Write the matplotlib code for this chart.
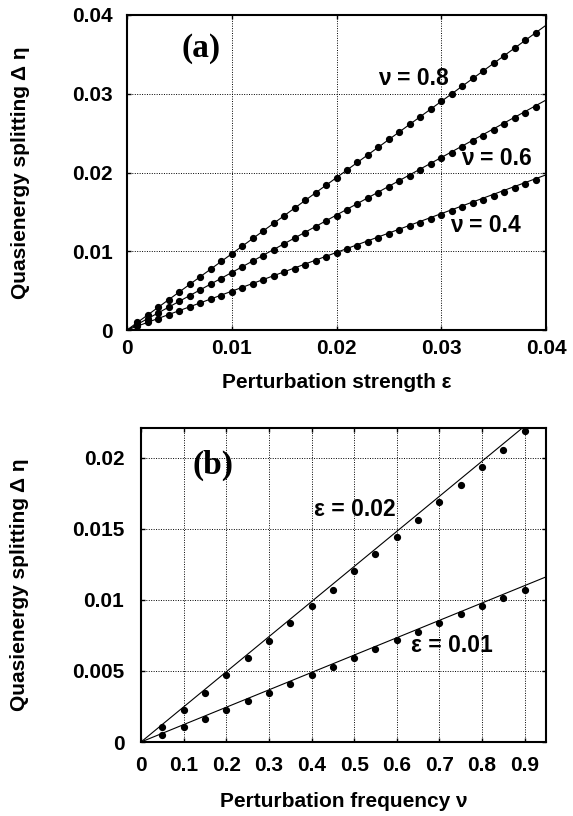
import matplotlib
matplotlib.use("Agg")
import matplotlib.pyplot as plt

plt.rcParams['font.family'] = ['Liberation Sans', 'DejaVu Sans']
plt.rcParams['font.weight'] = 'bold'

# ---- panel (a): splitting vs perturbation strength ----
eps_a = [0.001, 0.002, 0.003, 0.004, 0.005, 0.006, 0.007, 0.008, 0.009, 0.010,
         0.011, 0.012, 0.013, 0.014, 0.015, 0.016, 0.017, 0.018, 0.019, 0.020,
         0.021, 0.022, 0.023, 0.024, 0.025, 0.026, 0.027, 0.028, 0.029, 0.030,
         0.031, 0.032, 0.033, 0.034, 0.035, 0.036, 0.037, 0.038, 0.039]
split_nu08 = [0.00097, 0.00194, 0.00290, 0.00387, 0.00484, 0.00581, 0.00678, 0.00774,
              0.00871, 0.00968, 0.01065, 0.01162, 0.01258, 0.01355, 0.01452, 0.01549,
              0.01646, 0.01742, 0.01839, 0.01936, 0.02033, 0.02130, 0.02226, 0.02323,
              0.02420, 0.02517, 0.02614, 0.02710, 0.02807, 0.02904, 0.03001, 0.03098,
              0.03194, 0.03291, 0.03388, 0.03485, 0.03582, 0.03678, 0.03775]
split_nu06 = [0.00073, 0.00145, 0.00218, 0.00290, 0.00363, 0.00436, 0.00508, 0.00581,
              0.00653, 0.00726, 0.00799, 0.00871, 0.00944, 0.01016, 0.01089, 0.01162,
              0.01234, 0.01307, 0.01379, 0.01452, 0.01525, 0.01597, 0.01670, 0.01742,
              0.01815, 0.01888, 0.01960, 0.02033, 0.02105, 0.02178, 0.02251, 0.02323,
              0.02396, 0.02468, 0.02541, 0.02614, 0.02686, 0.02759, 0.02831]
split_nu04 = [0.00049, 0.00097, 0.00146, 0.00195, 0.00244, 0.00292, 0.00341, 0.00390,
              0.00438, 0.00487, 0.00536, 0.00584, 0.00633, 0.00682, 0.00731, 0.00779,
              0.00828, 0.00877, 0.00925, 0.00974, 0.01023, 0.01071, 0.01120, 0.01169,
              0.01218, 0.01266, 0.01315, 0.01364, 0.01412, 0.01461, 0.01510, 0.01558,
              0.01607, 0.01656, 0.01705, 0.01753, 0.01802, 0.01851, 0.01899]
# analytic lines (endpoints)
line_a_x = [0.0, 0.04]
line_nu08 = [0.0, 0.0387]
line_nu06 = [0.0, 0.0292]
line_nu04 = [0.0, 0.0197]
ticks_a = [0, 0.01, 0.02, 0.03, 0.04]
ticklabels_a = ['0', '0.01', '0.02', '0.03', '0.04']

# ---- panel (b): splitting vs perturbation frequency ----
nu_b = [0.05, 0.10, 0.15, 0.20, 0.25, 0.30, 0.35, 0.40, 0.45,
        0.50, 0.55, 0.60, 0.65, 0.70, 0.75, 0.80, 0.85, 0.90]
split_eps002 = [0.00106, 0.00223, 0.00347, 0.00469, 0.00592, 0.00711, 0.00836, 0.00958,
                0.01073, 0.01202, 0.01322, 0.01444, 0.01566, 0.01690, 0.01812, 0.01932,
                0.02054, 0.02188]
split_eps001 = [0.00047, 0.00106, 0.00164, 0.00223, 0.00286, 0.00345, 0.00406, 0.00469,
                0.00528, 0.00592, 0.00653, 0.00716, 0.00775, 0.00838, 0.00899, 0.00958,
                0.01014, 0.01073]
line_b_x = [0.0, 0.95]
line_eps002 = [0.0, 0.02347]
line_eps001 = [0.0, 0.01162]
xticks_b = [0, 0.1, 0.2, 0.3, 0.4, 0.5, 0.6, 0.7, 0.8, 0.9]
xticklabels_b = ['0', '0.1', '0.2', '0.3', '0.4', '0.5', '0.6', '0.7', '0.8', '0.9']
yticks_b = [0, 0.005, 0.01, 0.015, 0.02]
yticklabels_b = ['0', '0.005', '0.01', '0.015', '0.02']

W, H = 573, 816
fig = plt.figure(figsize=(W / 100, H / 100), dpi=100)
ax_a = fig.add_axes([127 / W, 1 - 330 / H, (546 - 127) / W, (330 - 15) / H])
ax_b = fig.add_axes([141 / W, 1 - 742 / H, (546 - 141) / W, (742 - 428) / H])

FS = 15


def style(ax, xpad, ypad):
    for s in ax.spines.values():
        s.set_linewidth(1.5)
    ax.tick_params(direction='in', length=3, width=1, top=True, right=True,
                   labelsize=FS)
    ax.tick_params(axis='x', pad=xpad)
    ax.tick_params(axis='y', pad=ypad)
    ax.grid(True, color='black', linestyle=(0, (1, 1.5)), linewidth=0.7)
    for lab in ax.get_xticklabels() + ax.get_yticklabels():
        lab.set_fontweight('bold')


dot = dict(linestyle='none', marker='o', markersize=4.2, color='black')
ln = dict(color='black', linewidth=0.8)

# panel (a)
for ly, sy in [(line_nu08, split_nu08), (line_nu06, split_nu06), (line_nu04, split_nu04)]:
    ax_a.plot(line_a_x, ly, **ln)
    ax_a.plot(eps_a, sy, **dot)
ax_a.set_xlim(0, 0.04)
ax_a.set_ylim(0, 0.04)
ax_a.set_xticks(ticks_a, ticklabels_a)
ax_a.set_yticks(ticks_a, ticklabels_a)
style(ax_a, 6.5, 10)
ax_a.set_xlabel('Perturbation strength ε', fontsize=FS, fontweight='bold', va='center')
ax_a.xaxis.set_label_coords(0.5, -0.168)
ax_a.set_ylabel('Quasienergy splitting Δ η', fontsize=FS, fontweight='bold', va='center')
ax_a.yaxis.set_label_coords(-0.255, 0.5)
ax_a.text(0.0071, 0.0357, '(a)', family='Liberation Serif', fontsize=24,
          fontweight='bold', ha='center', va='center')
ax_a.text(0.0273, 0.0319, 'ν = 0.8', fontsize=16.5, fontweight='bold', ha='center', va='center')
ax_a.text(0.0353, 0.0218, 'ν = 0.6', fontsize=16.5, fontweight='bold', ha='center', va='center')
ax_a.text(0.0342, 0.0133, 'ν = 0.4', fontsize=16.5, fontweight='bold', ha='center', va='center')

# panel (b)
for ly, sy in [(line_eps002, split_eps002), (line_eps001, split_eps001)]:
    ax_b.plot(line_b_x, ly, **ln)
    ax_b.plot(nu_b, sy, **dot)
ax_b.set_xlim(0, 0.95)
ax_b.set_ylim(0, 0.0221)
ax_b.set_xticks(xticks_b, xticklabels_b)
ax_b.set_yticks(yticks_b, yticklabels_b)
style(ax_b, 10, 12)
ax_b.set_xlabel('Perturbation frequency ν', fontsize=FS, fontweight='bold', va='center')
ax_b.xaxis.set_label_coords(0.5, -0.188)
ax_b.set_ylabel('Quasienergy splitting Δ η', fontsize=FS, fontweight='bold', va='center')
ax_b.yaxis.set_label_coords(-0.299, 0.5)
ax_b.text(0.170, 0.0195, '(b)', family='Liberation Serif', fontsize=24,
          fontweight='bold', ha='center', va='center')
ax_b.text(0.502, 0.01636, 'ε = 0.02', fontsize=16.5, fontweight='bold', ha='center', va='center')
ax_b.text(0.729, 0.00681, 'ε = 0.01', fontsize=16.5, fontweight='bold', ha='center', va='center')

fig.savefig('out.png', dpi=100)
